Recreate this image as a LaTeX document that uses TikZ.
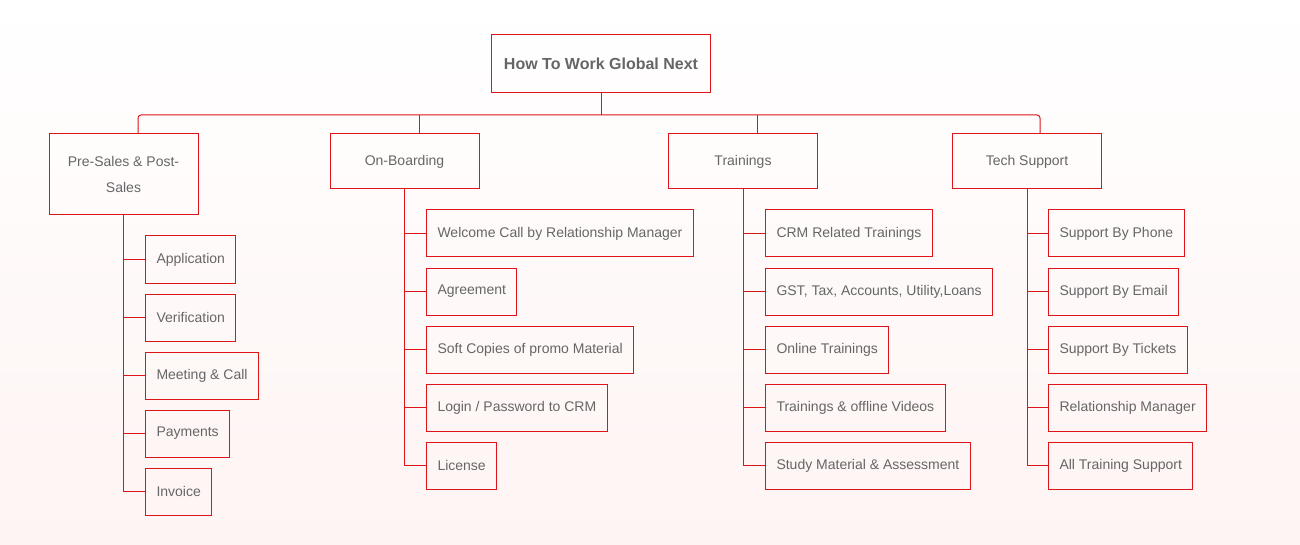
\documentclass[tikz,border=0pt]{standalone}
\usepackage{fontspec}
\setmainfont{Liberation Sans}
\definecolor{redline}{RGB}{221,20,24}
\definecolor{txt}{RGB}{102,102,102}
\definecolor{bgbot}{RGB}{254,244,243}
\begin{document}
\begin{tikzpicture}[x=1pt,y=-1pt,
  box/.style={draw=redline,line width=1pt,text=txt,font=\fontsize{14}{26}\selectfont,inner sep=0pt},
  topbox/.style={box,minimum width=149pt,minimum height=55pt,align=center},
  leaf/.style={box,anchor=west,minimum height=47pt,inner xsep=11pt},
  link/.style={draw=redline,line width=1pt}]
\shade[top color=white,bottom color=bgbot] (0,0) rectangle (1300,545);
\useasboundingbox (0,0) rectangle (1300,545);

\node[box,font=\fontsize{16}{19}\selectfont\bfseries,minimum width=219pt,minimum height=58pt] (root) at (601,64) {How To Work Global Next};
\coordinate (bar) at (601,115);

\node[topbox,minimum height=81pt] (pre) at (123.5,174.5) {Pre-Sales \& Post-\\Sales};
\node[topbox] (onb) at (404.5,161.5) {On-Boarding};
\node[topbox] (trn) at (743,161.5) {Trainings};
\node[topbox] (tec) at (1027,161.5) {Tech Support};

\draw[link] (root.south) -- (bar);
\draw[link,rounded corners=3pt] ([xshift=14.5pt]pre.north) |- (bar) -| ([xshift=13pt]tec.north);
\draw[link] ([xshift=14.5pt]onb.north) -- ([xshift=14.5pt]onb.north |- bar);
\draw[link] ([xshift=14pt]trn.north) -- ([xshift=14pt]trn.north |- bar);

% Pre-Sales children
\node[leaf] (p1) at (145,259.5) {Application};
\node[leaf] (p2) at (145,317.5) {Verification};
\node[leaf] (p3) at (145,375.5) {Meeting \& Call};
\node[leaf] (p4) at (145,433.5) {Payments};
\node[leaf] (p5) at (145,491.5) {Invoice};
\draw[link] (pre.south) |- (p5.west);
\foreach \c in {p1,p2,p3,p4} \draw[link] (pre.south |- \c.west) -- (\c.west);

% On-Boarding children
\node[leaf] (o1) at (426,233.5) {Welcome Call by Relationship Manager};
\node[leaf] (o2) at (426,291.5) {Agreement};
\node[leaf] (o3) at (426,349.5) {Soft Copies of promo Material};
\node[leaf] (o4) at (426,407.5) {Login / Password to CRM};
\node[leaf] (o5) at (426,465.5) {License};
\draw[link] (onb.south) |- (o5.west);
\foreach \c in {o1,o2,o3,o4} \draw[link] (onb.south |- \c.west) -- (\c.west);

% Trainings children
\node[leaf] (t1) at (765,233.5) {CRM Related Trainings};
\node[leaf] (t2) at (765,291.5) {GST, Tax, Accounts, Utility,Loans};
\node[leaf] (t3) at (765,349.5) {Online Trainings};
\node[leaf] (t4) at (765,407.5) {Trainings \& offline Videos};
\node[leaf] (t5) at (765,465.5) {Study Material \& Assessment};
\draw[link] (trn.south) |- (t5.west);
\foreach \c in {t1,t2,t3,t4} \draw[link] (trn.south |- \c.west) -- (\c.west);

% Tech Support children
\node[leaf] (s1) at (1048,233.5) {Support By Phone};
\node[leaf] (s2) at (1048,291.5) {Support By Email};
\node[leaf] (s3) at (1048,349.5) {Support By Tickets};
\node[leaf] (s4) at (1048,407.5) {Relationship Manager};
\node[leaf] (s5) at (1048,465.5) {All Training Support};
\draw[link] (tec.south) |- (s5.west);
\foreach \c in {s1,s2,s3,s4} \draw[link] (tec.south |- \c.west) -- (\c.west);
\end{tikzpicture}
\end{document}
